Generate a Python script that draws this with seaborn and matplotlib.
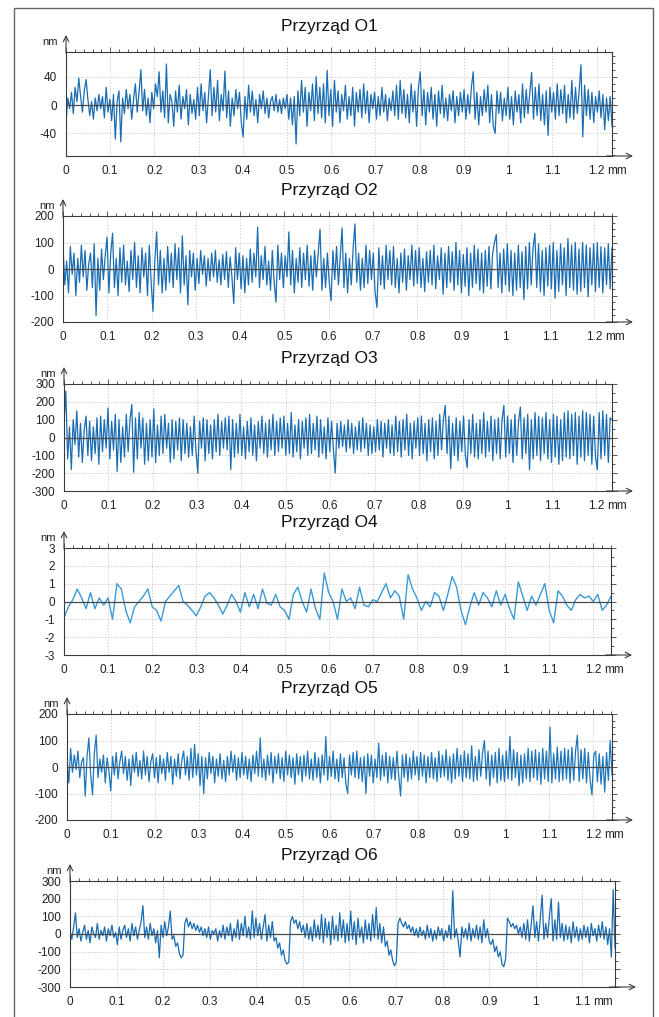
import numpy as np
import pandas as pd
import matplotlib
matplotlib.use("Agg")
import matplotlib.pyplot as plt
import seaborn as sns
from matplotlib.patches import Rectangle
from matplotlib.ticker import MultipleLocator, FuncFormatter

sns.set_style("white")
plt.rcParams["font.family"] = ["Liberation Sans", "DejaVu Sans"]
plt.rcParams["axes.unicode_minus"] = False

titles = ["Przyrząd O1", "Przyrząd O2", "Przyrząd O3", "Przyrząd O4", "Przyrząd O5", "Przyrząd O6"]

# profile lengths (mm) of each trace
x_ends = [1.235, 1.24, 1.235, 1.24, 1.243, 1.17]
last_tick = [1.2, 1.2, 1.2, 1.2, 1.2, 1.1]
y_limits = [(-72, 75), (-200, 200), (-300, 300), (-3, 3), (-200, 200), (-300, 300)]
y_major = [40, 100, 100, 1, 100, 100]
y_minor = [10, 25, 50, 0.5, 25, 50]

o1 = [-25, 10, -5, 18, -12, 25, 5, 38, 12, -10, 20, 36, 8, -15, 5, -20, 10, -8, 15, -5,
      12, -18, 25, -10, 8, -22, 15, -48, 5, 20, -52, 10, -12, 22, -5, 15, -20, 8, 30, -10,
      18, 50, -8, 22, -15, 10, -25, 18, -5, 30, 12, 47, -10, 20, -18, 58, -25, 15, 5, -30,
      20, -10, 28, -20, 12, -5, 22, -28, 15, -12, 8, -20, 25, -15, 30, -8, 18, -25, 12, 50,
      -15, 25, -10, 35, -22, 15, -8, 48, -18, 20, -30, 10, -15, 22, -5, 18, -25, -45, 12, -20,
      28, -10, 20, -15, 8, -25, 15, -5, 20, -12, 10, -18, 5, 12, -8, 15, -10, 8, -12, 10,
      -5, 15, -20, 10, -28, 12, -55, 20, -15, 35, -10, 25, -30, 18, -8, 30, -22, 40, -12, 25,
      -18, 30, -25, 49, -15, 22, -30, 35, -10, 20, -25, 15, -8, 28, -20, 12, -15, 25, -30, 18,
      -10, 22, -18, 30, -12, 20, -25, 15, -5, 18, -20, 12, -15, 25, -10, 15, -22, 10, -8, 20,
      -15, 28, -20, 35, -12, 22, -18, 15, -25, 30, -10, 20, -30, 25, 47, -15, 22, -28, 18, -10,
      25, -20, 15, -30, 20, -12, 28, -18, 10, -22, 15, -8, 20, -25, 12, -15, 18, -10, 22, -20,
      15, -12, 25, 47, -20, 18, -28, 12, -15, 22, -10, 28, -25, 15, -30, -40, 20, -12, 18, -22,
      10, -15, 25, -20, 12, -28, 20, -10, 15, -25, 30, -18, 22, -12, 18, 46, -20, 25, -15, 30,
      -22, 15, -28, 20, -43, 25, -10, 18, -20, 30, -15, 22, -12, 28, -25, 15, -18, 35, -20, 25,
      -12, 20, 57, -45, 28, -15, 22, -20, 18, -25, 12, -10, 20, -18, 15, -35, 10, -22, 12, -30]

o2 = [80, -60, 30, -90, 85, -20, 60, -100, 40, -50, 90, -30, 70, -80, 20, 60, -70, 95, -175, 40,
      -80, 75, -40, 50, 120, -90, 60, 135, -70, 40, -100, 80, -50, 90, -60, 30, -85, 70, -40, 100,
      -70, 50, -90, 80, -30, 60, -100, 90, -50, -160, 30, 140, -60, 70, -90, 40, -80, 85, -50, 60,
      -70, 95, -40, 80, -90, 125, -60, 50, -135, 70, -30, 60, -80, 40, -55, 70, -20, 50, -65, 40,
      -45, 60, -30, 70, -50, 35, -60, 55, -40, 65, -70, 45, -30, -130, 80, -40, 60, -75, 50, -90,
      40, -60, 75, -50, 60, -30, 158, -70, 50, -40, 85, -60, 30, -80, 70, -50, -125, 90, -40, 60,
      -70, 50, -30, 140, -60, 70, -90, 40, -50, 80, -70, 60, -40, 90, -65, 50, -80, 70, -30, 60,
      150, -80, 40, -70, 60, -50, -120, 70, -40, 85, -60, 50, 155, -70, 60, -90, 40, -60, 75, 170,
      -50, 60, -80, 40, -70, 90, -55, 70, -40, 60, -90, -145, 80, -60, 50, -75, 90, -40, 70, -60,
      85, -70, 40, -90, 60, -50, 75, -80, 50, -40, 90, -65, 70, -55, 80, -70, 40, -85, 65, -50,
      70, -60, 90, -75, 50, -40, 80, -95, 60, -70, 85, -50, 65, -80, 100, -60, 70, -90, 55, -65,
      80, -100, 60, -70, 90, -55, 75, -80, 60, -90, 70, -65, 85, -75, 60, 100, 130, -70, 60, -90,
      75, -60, 95, -85, 70, -100, 60, -80, 90, -70, 65, -115, 85, -75, 100, -60, 80, 135, -70, 95,
      -85, 70, -100, 80, -65, 90, -75, 100, -110, 70, -85, 95, -60, 80, -100, 115, -70, 90, -80, 100,
      -95, 75, -85, 100, -70, 90, -105, 80, -60, 95, -85, 100, -70, 85, -90, 80, -60, 95, -75, 80]

o3 = [80, 260, -120, 60, -180, 100, -40, 150, -110, 80, -140, 40, 120, -100, 90, -130, 60, -90, 110, -150,
      120, -80, 100, -60, 165, -120, 90, -70, 130, -190, 100, -140, 60, -110, 130, -80, 100, 185, -195, 110,
      -120, 140, -60, 110, -150, 80, -130, 100, -110, 160, -140, 70, -100, 120, -90, 130, -60, 80, -140, 100,
      -120, 90, -70, 110, -130, 100, -90, 80, -110, 60, -100, 120, -80, -200, 90, -60, 110, -130, 100, -90,
      70, -120, 100, -80, 130, -100, 90, -60, 110, -70, 120, -180, 100, -110, 80, -90, 130, -100, 60, -120,
      90, -80, 110, -100, 70, -130, 90, -60, 120, -90, 80, -110, 100, -70, 130, -100, 90, -80, 110, -60,
      120, -100, 80, -90, 140, -110, 70, -80, 100, -120, 90, -60, 110, -100, 130, -90, 80, -70, 120, -110,
      100, -90, 60, -120, 110, -80, 90, -70, -200, 80, -60, 90, -50, 70, -80, 100, -60, 80, -90, 60,
      -70, 90, -80, 110, -60, 80, -100, 70, -90, 60, -80, 100, -70, 90, -110, 80, -60, 100, -90, 70,
      -100, 120, -80, 90, -110, 100, -70, 130, -100, 80, -120, 90, -60, 110, -100, 120, -90, 80, -130, 100,
      -80, 110, -120, 90, -100, 130, -70, 100, 180, -90, 120, -175, 80, -100, 110, -130, 90, -80, 120, -100,
      -170, 100, -90, 130, -110, 80, -120, 100, -90, 140, -110, 90, -80, 120, -130, 100, -90, 110, -120, 100,
      180, -110, 120, -90, 100, -140, 130, -100, 90, 170, -120, 110, -90, 130, -180, 100, -120, 140, -100, 120,
      -130, 110, -90, 140, -120, 100, -140, 130, -110, 120, -150, 100, -130, 140, -110, 150, -120, 130, -100, 140,
      -150, 120, -110, 150, -130, 140, -100, 130, -150, 120, -110, -180, 140, -120, 150, -100, 130, -140, 110, 100]

o4 = [-0.9, -0.3, 0.1, 0.7, 0.2, -0.4, 0.5, -0.4, 0.2, -0.2,
      0.2, -1.0, 1.0, 0.7, -0.5, -1.2, -0.3, 0.0, 0.3, 0.7,
      -0.3, -0.5, -1.1, 0.0, 0.3, 0.6, 0.9, 0.0, -0.2, -0.5,
      -0.8, -0.3, 0.3, 0.5, 0.2, -0.2, -0.7, -0.2, 0.4, 0.0,
      -0.6, 0.5, -0.3, 0.4, -0.4, 0.7, -0.1, -0.2, 0.4, -0.3,
      -0.5, -1.0, 0.4, 0.8, 0.0, -0.6, 0.7, -0.4, -1.0, 1.6,
      0.5, 0.0, -1.0, 0.7, 0.0, 0.2, -0.4, 0.8, -0.2, -0.3,
      0.1, 0.0, 0.5, 1.0, 0.2, 0.6, 0.3, -1.0, 1.5, 0.7,
      0.2, -0.5, 0.0, -0.3, 0.5, 0.3, -0.5, 0.4, 1.4, 0.8,
      -0.5, -1.3, -0.3, 0.5, -0.2, 0.5, 0.2, -0.3, 0.6, -0.2,
      0.4, -0.4, -1.0, 1.1, 0.3, -0.5, 0.3, -0.2, 0.4, 1.0,
      -0.5, -1.2, 0.6, 0.3, -0.2, -0.5, 0.1, 0.4, 0.2, 0.3,
      0.0, 0.4, -0.5, -0.2, 0.3]

o5 = [30, -60, 70, -20, 45, -10, 60, -40, 20, 35, -110, 40, 110, -30, -105, 50, 120, -40, 30, -20,
      45, -60, 35, -15, -90, 40, -30, 55, -45, 20, 60, -25, 40, -50, 30, -70, 45, -20, 55, -35,
      25, -45, 60, -30, 40, -55, 20, 50, -40, 35, -60, 45, -25, 30, -50, 55, -20, 40, -65, 30,
      -35, 50, -45, 25, 60, -30, 40, -50, 70, -40, 85, -30, 50, -70, 40, -100, 35, -45, 55, -25,
      40, -60, 30, -35, 50, -45, 25, -55, 40, -30, 60, -20, 45, -50, 35, -40, 55, -30, 40, -45,
      30, -55, 45, -25, 60, -35, 110, -40, 30, -50, 45, -30, 55, -60, 40, -25, 50, -45, 35, -55,
      60, -30, 45, -40, 35, -65, 50, -30, 40, -55, 45, -35, 60, -45, 30, -50, 55, -40, 35, -60,
      45, -30, 115, -50, 40, -35, 60, -45, 30, -55, 50, -40, 35, -65, -100, 45, -30, 55, -40, 60,
      -45, 35, -55, 40, -100, 50, -35, 45, -60, 30, -40, 90, -50, 45, -35, 55, -60, 40, -45, 35,
      -50, 60, -35, -110, 45, -40, 50, -55, 35, -45, 60, -30, 40, -50, 55, -35, 45, -60, 40, -40,
      55, -45, 35, -55, 60, -40, 45, -35, 65, -50, 40, -60, 50, -45, 70, -35, 45, -55, 60, -40,
      50, -45, 80, -55, 40, -50, 65, -35, 55, 100, -45, 60, -70, 45, -40, 55, -60, 70, -50, 45,
      -55, 60, -45, 115, -50, 65, -40, 55, -70, 45, -60, 50, -45, 70, -55, 60, -40, 65, -50, 55,
      -65, 70, -45, 60, -55, 150, -60, 50, -45, 75, -55, 60, -50, 70, -45, 65, -60, 75, -50, 60,
      120, -55, 65, -45, 70, -60, 55, -50, -105, 45, 60, -55, 50, -65, 40, -95, 55, -50, 100, -30]

o6 = [20, -30, 40, 120, -20, 30, -40, 10, 50, -30, 20, -50, 40, 0, -20, 60, -30, 20, -10, 40,
      -40, 30, -10, 50, -20, 10, -60, 40, -30, 20, 50, -20, 30, -40, 60, -10, 40, -30, 20, 70,
      160, -20, 40, -30, 60, -10, 30, -50, 20, -135, 50, -20, 70, -10, 40, 130, -30, -10, -70, -50,
      -110, -135, -120, 60, 90, 40, 70, 30, 60, 20, 50, 10, 40, -10, 30, -20, 40, -30, 20, 0,
      30, -40, 20, -20, 50, -30, 40, -10, 60, -40, 30, -20, 80, -30, 60, -10, 100, -20, 40, -30,
      130, -20, 90, -10, 60, -30, 40, 110, -40, 50, -20, 70, -40, -20, -80, -50, -120, -90, -150, -170,
      -160, 70, 100, 60, 80, 30, 70, 10, 50, -20, 60, -30, 40, -40, 80, -20, 50, -30, 110, -50,
      90, -20, 70, -60, 100, -30, 50, -40, 120, -20, 80, -50, 60, -40, 130, -30, 70, -60, 90, -20,
      40, -50, 80, -30, 60, -40, 110, -20, 150, -30, 60, -50, 40, -70, -40, -120, -90, -150, -180, -160,
      60, 90, 60, 40, 70, 30, 50, 10, 40, -10, 30, -20, 40, -10, 20, -30, 50, -20, 30, -40,
      20, -30, 40, -10, 30, -40, 20, -20, 50, -30, 245, -20, 30, -40, -130, 40, -20, 30, -30, 60,
      -40, 30, -20, 50, -30, 40, -50, 80, -20, 30, -40, -60, -30, -100, -70, -130, -100, -170, -185, -140,
      90, 70, 40, 60, 30, 50, 0, 40, -20, 60, -30, 80, -40, 50, 160, -20, 70, -40, 90, 220,
      -30, 60, -20, 100, 200, -40, 80, -30, 180, -20, 60, -40, 50, -30, 40, -50, 70, -20, 40, -40,
      30, -30, 50, -20, 40, -50, 60, -10, 30, -40, 50, -20, 70, -30, 40, -60, 30, -130, 250, -80]

series = [o1, o2, o3, o4, o5, o6]
line_colors = ["#1a6db3", "#1a6db3", "#1a6db3", "#3a9ad8", "#1f76ba", "#1a6db3"]
line_widths = [0.9, 0.9, 0.9, 1.0, 0.9, 0.9]

W, H = 659, 1017
fig = plt.figure(figsize=(W / 100, H / 100), dpi=100)

# panel boxes in pixels: left, right, top, bottom
boxes = [(66, 612, 52, 156), (63, 612, 216, 322), (64, 612, 384, 491),
         (64, 611, 548, 655), (67, 612, 714, 820), (70, 615, 881, 987)]

fig.add_artist(Rectangle((14 / W, -0.02), (653 - 14) / W, 1.02 - 8 / H,
                         transform=fig.transFigure, fill=False,
                         edgecolor="#666666", linewidth=1.0))

fmt = FuncFormatter(lambda v, p: f"{round(v, 1):g}")

for k in range(6):
    L, R, T, B = boxes[k]
    wpx, hpx = R - L, B - T
    ax = fig.add_axes([L / W, 1 - B / H, wpx / W, hpx / H])
    y = series[k]
    x = np.linspace(0, x_ends[k], len(y))
    df = pd.DataFrame({"x": x, "y": y})
    sns.lineplot(data=df, x="x", y="y", ax=ax, color=line_colors[k],
                 linewidth=line_widths[k], estimator=None, sort=False, zorder=2)
    ax.axhline(0, color="#4a4a4a", linewidth=0.9, zorder=3)
    ax.set_xlim(0, x_ends[k])
    ax.set_ylim(*y_limits[k])
    ax.set_xlabel("")
    ax.set_ylabel("")
    ax.xaxis.set_major_locator(MultipleLocator(0.1))
    ax.xaxis.set_minor_locator(MultipleLocator(0.02))
    ax.xaxis.set_major_formatter(fmt)
    ax.yaxis.set_major_locator(MultipleLocator(y_major[k]))
    ax.yaxis.set_minor_locator(MultipleLocator(y_minor[k]))
    ax.yaxis.set_major_formatter(FuncFormatter(lambda v, p: f"{v:g}"))
    ax.grid(True, which="major", linestyle=(0, (1.5, 2.0)), color="#c4c4c4", linewidth=0.6)
    for s in ax.spines.values():
        s.set_color("#3a3a3a")
        s.set_linewidth(0.8)
    ax.tick_params(axis="both", which="both", direction="out", top=True, right=True,
                   labeltop=False, labelright=False, color="#3a3a3a", width=0.6,
                   labelsize=8.5, labelcolor="#222222")
    ax.tick_params(which="major", length=3.5, pad=3)
    ax.tick_params(which="minor", length=2)
    # axis arrows
    ax.annotate("", xy=(0, 1 + 17 / hpx), xytext=(0, 0.99), xycoords="axes fraction",
                arrowprops=dict(arrowstyle="->", color="#3a3a3a", lw=0.8,
                                shrinkA=0, shrinkB=0), annotation_clip=False)
    ax.annotate("", xy=(1 + 21 / wpx, 0), xytext=(0.99, 0), xycoords="axes fraction",
                arrowprops=dict(arrowstyle="->", color="#3a3a3a", lw=0.8,
                                shrinkA=0, shrinkB=0), annotation_clip=False)
    ax.annotate("nm", xy=(0, 1), xycoords="axes fraction", xytext=(-6, 7),
                textcoords="offset points", ha="right", va="center",
                fontsize=8, color="#222222", annotation_clip=False)
    ax.annotate("mm", xy=(last_tick[k], 0), xycoords=("data", "axes fraction"),
                xytext=(8, -6.5), textcoords="offset points", ha="left", va="top",
                fontsize=8.5, color="#222222", annotation_clip=False)
    fig.text(0.5, 1 - (T - 21) / H, titles[k], ha="center", va="baseline",
             fontsize=12.5, color="#111111")

fig.savefig("out.png", dpi=100)
